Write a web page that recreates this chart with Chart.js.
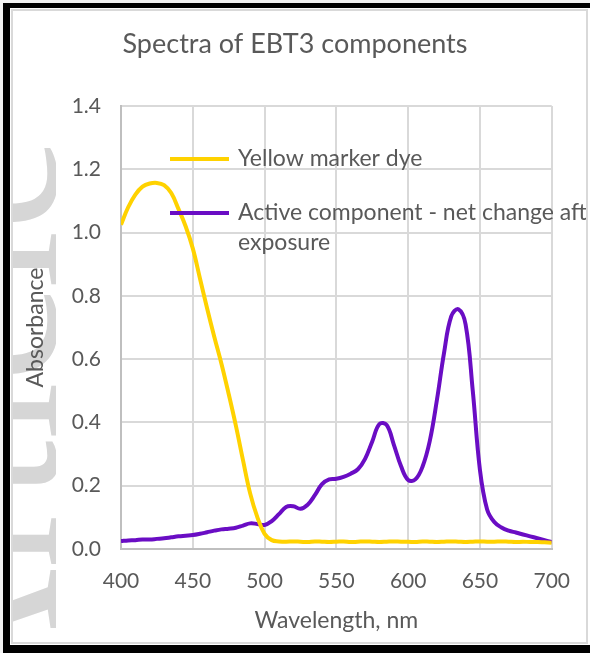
<!DOCTYPE html>
<html>
<head>
<meta charset="utf-8">
<script src="https://cdn.jsdelivr.net/npm/chart.js@4"></script>
<style>
  html, body { margin: 0; padding: 0; background: #f2f2f2; }
  #wrap { position: relative; width: 590px; height: 653px; overflow: hidden; }
  #chartCanvas { position: absolute; left: 0; top: 0; }
</style>
</head>
<body>
<div id="wrap"><canvas id="chartCanvas" width="590" height="653"></canvas></div>
<script>
// wavelength grid, nm
var wavelengths = [400, 405, 410, 415, 420, 425, 430, 435, 440, 445, 450, 455, 460, 465, 470, 475, 480, 485, 490, 495,
    500, 505, 510, 515, 520, 525, 530, 535, 540, 545, 550, 555, 560, 565, 570, 575, 580, 585, 590, 595,
    600, 605, 610, 615, 620, 625, 630, 635, 640, 645, 650, 655, 660, 665, 670, 675, 680, 685, 690, 695, 700];

var yellowDye = [1.025, 1.08, 1.12, 1.145, 1.155, 1.157, 1.15, 1.125, 1.075, 1.02, 0.95, 0.855, 0.76, 0.67, 0.585, 0.49, 0.39, 0.28, 0.175, 0.10,
    0.048, 0.028, 0.024, 0.023, 0.024, 0.023, 0.022, 0.024, 0.023, 0.022, 0.023, 0.024, 0.022, 0.023, 0.024, 0.023, 0.022, 0.023, 0.024, 0.023,
    0.023, 0.022, 0.024, 0.023, 0.022, 0.023, 0.024, 0.023, 0.022, 0.023, 0.024, 0.023, 0.023, 0.024, 0.023, 0.022, 0.023, 0.022, 0.022, 0.021, 0.02];

var activeComponent = [0.025, 0.027, 0.028, 0.03, 0.03, 0.032, 0.034, 0.037, 0.04, 0.042, 0.044, 0.048, 0.053, 0.058, 0.062, 0.064, 0.067, 0.074, 0.081, 0.079,
    0.076, 0.088, 0.11, 0.133, 0.135, 0.127, 0.14, 0.17, 0.205, 0.22, 0.222, 0.228, 0.238, 0.252, 0.285, 0.34, 0.395, 0.392, 0.33, 0.262,
    0.218, 0.22, 0.26, 0.34, 0.47, 0.62, 0.735, 0.758, 0.71, 0.5, 0.25, 0.125, 0.085, 0.068, 0.058, 0.052, 0.046, 0.04, 0.034, 0.028, 0.022];

var seriesNames = ['Yellow marker dye', 'Active component - net change aft', 'exposure'];
var chartTitle = 'Spectra of EBT3 components';

var textColor = '#595959';
var fontFamily = 'Lato, "Open Sans", sans-serif';

function toPoints(xs, ys) {
    return xs.map(function (x, i) { return { x: x, y: ys[i] }; });
}

// frame, watermark, title and the in-plot legend
var decorPlugin = {
    id: 'decor',
    beforeDraw: function (chart) {
        var c = chart.ctx;
        c.save();
        c.fillStyle = '#f2f2f2';
        c.fillRect(0, 0, 590, 653);
        c.fillStyle = '#ffffff';
        c.fillRect(10, 8, 580, 637);
        // gray inner border
        c.strokeStyle = '#d9d9d9';
        c.lineWidth = 2;
        c.strokeRect(12, 10, 575, 633);
        // watermark letters, only their lower edge shows
        c.beginPath();
        c.rect(13, 11, 43, 631);
        c.clip();
        c.translate(56, 720);
        c.rotate(-Math.PI / 2);
        c.fillStyle = '#d6d6d6';
        c.font = '210px "Liberation Serif", serif';
        c.textBaseline = 'alphabetic';
        c.fillText('Article', 0, 0);
        c.restore();
    },
    afterDraw: function (chart) {
        var c = chart.ctx;
        c.save();
        // black outer frame
        c.fillStyle = '#000000';
        c.fillRect(3, 3, 7, 650);
        c.fillRect(3, 3, 587, 5);
        c.fillRect(3, 645, 587, 8);

        c.fillStyle = textColor;
        c.font = '27px ' + fontFamily;
        c.textAlign = 'center';
        c.textBaseline = 'middle';
        c.fillText(chartTitle, 295, 44);

        // legend
        c.beginPath();
        c.rect(0, 0, 586, 653);
        c.clip();
        c.lineWidth = 4;
        c.strokeStyle = chart.data.datasets[0].borderColor;
        c.beginPath(); c.moveTo(170, 159); c.lineTo(229, 159); c.stroke();
        c.strokeStyle = chart.data.datasets[1].borderColor;
        c.beginPath(); c.moveTo(170, 213); c.lineTo(229, 213); c.stroke();
        c.font = '23px ' + fontFamily;
        c.textAlign = 'left';
        c.fillText(seriesNames[0], 238, 159);
        c.fillText(seriesNames[1], 238, 213);
        c.fillText(seriesNames[2], 238, 243);
        c.restore();
    }
};

var ctx = document.getElementById('chartCanvas').getContext('2d');
var spectraChart = new Chart(ctx, {
    type: 'line',
    data: {
        datasets: [{
            label: seriesNames[0],
            data: toPoints(wavelengths, yellowDye),
            borderColor: '#ffd200',
            borderWidth: 4,
            pointRadius: 0,
            tension: 0.4,
            fill: false
        }, {
            label: seriesNames[1] + ' ' + seriesNames[2],
            data: toPoints(wavelengths, activeComponent),
            borderColor: '#6a0dc4',
            borderWidth: 4,
            pointRadius: 0,
            tension: 0.4,
            fill: false
        }]
    },
    options: {
        responsive: false,
        animation: false,
        layout: { padding: { left: 12, top: 106, right: 37, bottom: 10 } },
        plugins: {
            legend: { display: false },
            title: { display: false },
            tooltip: { enabled: false }
        },
        scales: {
            x: {
                type: 'linear',
                min: 400,
                max: 700,
                ticks: { stepSize: 50, color: textColor, font: { family: fontFamily, size: 21 }, padding: 20 },
                grid: { color: '#d9d9d9', lineWidth: 2, drawTicks: false },
                border: { color: '#bfbfbf', width: 2 },
                title: { display: true, text: 'Wavelength, nm', color: textColor, font: { family: fontFamily, size: 23 }, padding: { top: 4, bottom: 9 } },
                afterFit: function (scale) { scale.height = 94; }
            },
            y: {
                min: 0,
                max: 1.4,
                ticks: {
                    stepSize: 0.2, color: textColor, font: { family: fontFamily, size: 21 }, padding: 20,
                    callback: function (v) { return v.toFixed(1); }
                },
                grid: { color: '#d9d9d9', lineWidth: 2, drawTicks: false },
                border: { color: '#bfbfbf', width: 2 },
                title: { display: true, text: 'Absorbance', color: textColor, font: { family: fontFamily, size: 23 }, padding: { top: 10, bottom: 4 } },
                afterFit: function (scale) { scale.width = 109; }
            }
        }
    },
    plugins: [decorPlugin]
});
</script>
</body>
</html>
